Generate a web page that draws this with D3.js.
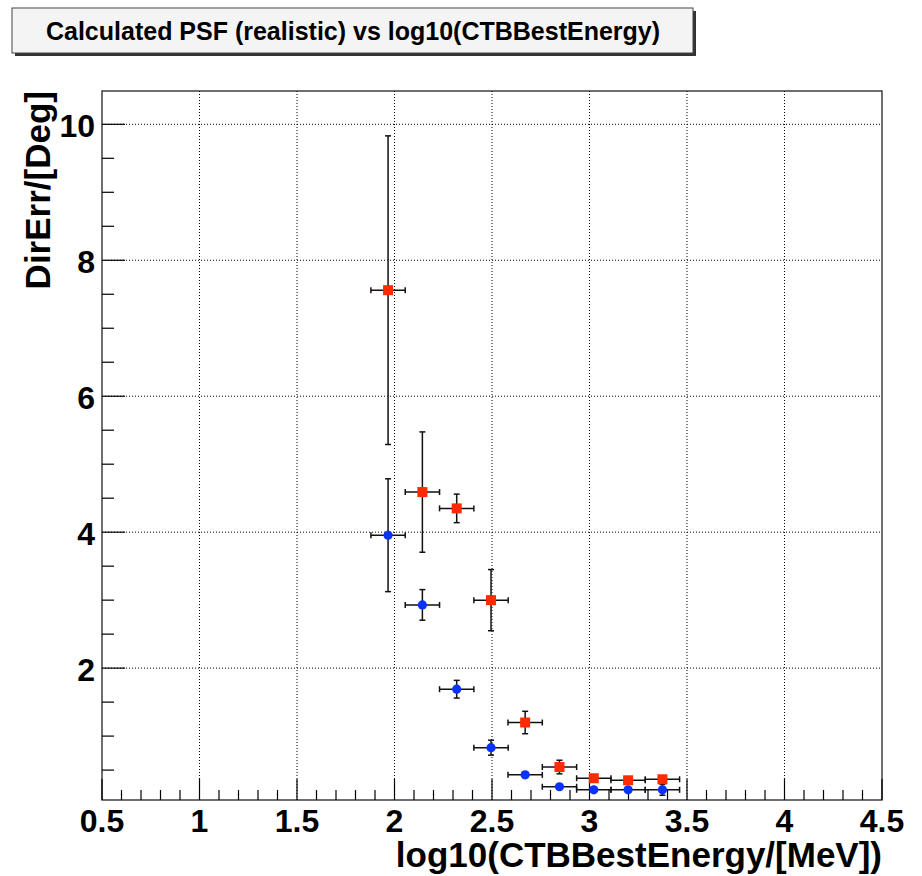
<html>
<head>
    <title>Calculated PSF (realistic) vs log10(CTBBestEnergy)</title>
    <style>
        body { margin: 0; background: #fff; }
        text { font-family: "Liberation Sans", Arial, sans-serif; font-weight: bold; fill: #000; }
        g.grid line { stroke: #000; stroke-width: 1; stroke-dasharray: 1,2; }
        g.ticks line { stroke: #000; stroke-width: 1.2; }
        g.errors line { stroke: #111; stroke-width: 1.5; }
    </style>
</head>
<body>
<div id="target"></div>

<script src="https://cdnjs.cloudflare.com/ajax/libs/d3/7.8.5/d3.min.js"></script>
<script>
    // bin centres of log10(energy), shared by both series
    var binCenters = [1.967, 2.143, 2.319, 2.495, 2.670, 2.846, 3.022, 3.198, 3.374];
    var binHalfWidth = [0.088, 0.088, 0.088, 0.088, 0.088, 0.088, 0.088, 0.088, 0.088];

    // red squares
    var redValues = [7.56, 4.59, 4.35, 3.00, 1.20, 0.545, 0.38, 0.35, 0.365];
    var redErrors = [2.27, 0.885, 0.21, 0.45, 0.165, 0.10, 0.03, 0.02, 0.03];

    // blue circles
    var blueValues = [3.955, 2.93, 1.69, 0.83, 0.43, 0.255, 0.21, 0.21, 0.21];
    var blueErrors = [0.83, 0.225, 0.13, 0.11, 0.04, 0.03, 0.03, 0.03, 0.08];

    var xTickValues = [0.5, 1, 1.5, 2, 2.5, 3, 3.5, 4, 4.5];
    var xTickLabels = ['0.5', '1', '1.5', '2', '2.5', '3', '3.5', '4', '4.5'];
    var yTickValues = [2, 4, 6, 8, 10];
    var yTickLabels = ['2', '4', '6', '8', '10'];

    var titleText = 'Calculated PSF (realistic) vs log10(CTBBestEnergy)';
    var xTitle = 'log10(CTBBestEnergy/[MeV])';
    var yTitle = 'DirErr/[Deg]';

    var width = 922, height = 876;
    var padL = 102, padR = 882, padT = 91, padB = 800;

    var svg = d3.select('#target').append('svg')
            .attr('width', width)
            .attr('height', height);

    var x = d3.scaleLinear().domain([0.5, 4.5]).range([padL, padR]);
    var y = d3.scaleLinear().domain([0.06, 10.49]).range([padB, padT]);

    //grid at the major ticks
    var gGrid = svg.append('g').attr('class', 'grid');
    gGrid.selectAll('line.vx')
            .data(xTickValues.slice(1, -1))
            .enter().append('line')
            .attr('x1', function (d) { return x(d); })
            .attr('x2', function (d) { return x(d); })
            .attr('y1', padT)
            .attr('y2', padB);
    gGrid.selectAll('line.hy')
            .data(yTickValues)
            .enter().append('line')
            .attr('x1', padL)
            .attr('x2', padR)
            .attr('y1', function (d) { return y(d); })
            .attr('y2', function (d) { return y(d); });

    //frame
    svg.append('rect')
            .attr('x', padL).attr('y', padT)
            .attr('width', padR - padL).attr('height', padB - padT)
            .attr('fill', 'none')
            .attr('stroke', '#222')
            .attr('stroke-width', 1.3);

    //ticks: long at majors, short at minors
    var gTicks = svg.append('g').attr('class', 'ticks');
    var xMinor = d3.range(5, 46).map(function (i) { return i / 10; });
    gTicks.selectAll('line.xt')
            .data(xMinor)
            .enter().append('line')
            .attr('x1', function (d) { return x(d); })
            .attr('x2', function (d) { return x(d); })
            .attr('y1', padB)
            .attr('y2', function (d, i) { return padB - (i % 5 === 0 ? 21 : 10); });
    var yMinor = d3.range(1, 21).map(function (i) { return i / 2; });
    gTicks.selectAll('line.yt')
            .data(yMinor)
            .enter().append('line')
            .attr('x1', padL)
            .attr('x2', function (d) { return padL + (d % 2 === 0 ? 23 : 12); })
            .attr('y1', function (d) { return y(d); })
            .attr('y2', function (d) { return y(d); });

    //tick labels
    svg.append('g').selectAll('text')
            .data(xTickValues)
            .enter().append('text')
            .attr('x', function (d) { return x(d); })
            .attr('y', 832)
            .attr('text-anchor', 'middle')
            .style('font-size', '32px')
            .text(function (d, i) { return xTickLabels[i]; });
    svg.append('g').selectAll('text')
            .data(yTickValues)
            .enter().append('text')
            .attr('x', 95)
            .attr('y', function (d) { return y(d) + 13; })
            .attr('text-anchor', 'end')
            .style('font-size', '32px')
            .text(function (d, i) { return yTickLabels[i]; });

    //axis titles
    svg.append('text')
            .attr('x', padR)
            .attr('y', 867)
            .attr('text-anchor', 'end')
            .style('font-size', '35px')
            .text(xTitle);
    svg.append('text')
            .attr('transform', 'translate(50,' + padT + ') rotate(-90)')
            .attr('text-anchor', 'end')
            .style('font-size', '35px')
            .text(yTitle);

    //error bars, drawn under the markers
    var cap = 3;
    function drawErrors(values, errors) {
        var g = svg.append('g').attr('class', 'errors');
        var pts = g.selectAll('g.pt')
                .data(values)
                .enter().append('g');
        pts.append('line')
                .attr('x1', function (d, i) { return x(binCenters[i] - binHalfWidth[i]); })
                .attr('x2', function (d, i) { return x(binCenters[i] + binHalfWidth[i]); })
                .attr('y1', function (d) { return y(d); })
                .attr('y2', function (d) { return y(d); });
        pts.append('line')
                .attr('x1', function (d, i) { return x(binCenters[i]); })
                .attr('x2', function (d, i) { return x(binCenters[i]); })
                .attr('y1', function (d, i) { return y(d + errors[i]); })
                .attr('y2', function (d, i) { return y(d - errors[i]); });
        //end caps
        [-1, 1].forEach(function (s) {
            pts.append('line')
                    .attr('x1', function (d, i) { return x(binCenters[i] + s * binHalfWidth[i]); })
                    .attr('x2', function (d, i) { return x(binCenters[i] + s * binHalfWidth[i]); })
                    .attr('y1', function (d) { return y(d) - cap; })
                    .attr('y2', function (d) { return y(d) + cap; });
            pts.append('line')
                    .attr('x1', function (d, i) { return x(binCenters[i]) - cap; })
                    .attr('x2', function (d, i) { return x(binCenters[i]) + cap; })
                    .attr('y1', function (d, i) { return y(d + s * errors[i]); })
                    .attr('y2', function (d, i) { return y(d + s * errors[i]); });
        });
    }
    drawErrors(redValues, redErrors);
    drawErrors(blueValues, blueErrors);

    //markers
    svg.append('g').selectAll('rect')
            .data(redValues)
            .enter().append('rect')
            .attr('x', function (d, i) { return x(binCenters[i]) - 5; })
            .attr('y', function (d) { return y(d) - 5; })
            .attr('width', 10).attr('height', 10)
            .attr('fill', '#ff2a00');
    svg.append('g').selectAll('circle')
            .data(blueValues)
            .enter().append('circle')
            .attr('cx', function (d, i) { return x(binCenters[i]); })
            .attr('cy', function (d) { return y(d); })
            .attr('r', 4.6)
            .attr('fill', '#0a32ff');

    //title box with shadow
    svg.append('rect')
            .attr('x', 15).attr('y', 11)
            .attr('width', 681).attr('height', 45)
            .attr('fill', '#333');
    svg.append('rect')
            .attr('x', 12).attr('y', 8)
            .attr('width', 681).attr('height', 45)
            .attr('fill', '#f4f4f4')
            .attr('stroke', '#444')
            .attr('stroke-width', 1);
    svg.append('text')
            .attr('x', 353)
            .attr('y', 40)
            .attr('text-anchor', 'middle')
            .style('font-size', '25px')
            .text(titleText);
</script>
</body>
</html>
